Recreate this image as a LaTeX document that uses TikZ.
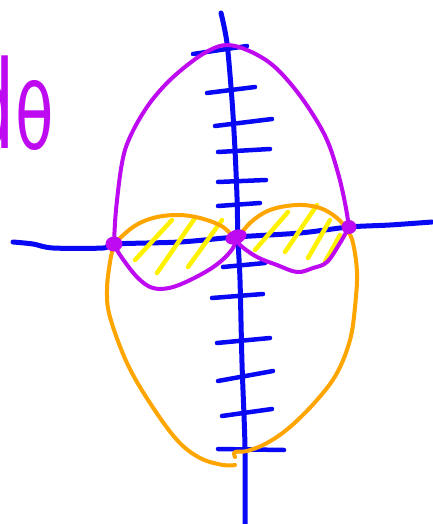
\documentclass[tikz,border=0pt]{standalone}
\usepackage{fontspec}
\newfontfamily\handfont{DejaVu Sans}
\definecolor{axisblue}{RGB}{8,8,245}
\definecolor{curvepurple}{RGB}{190,10,240}
\definecolor{curveorange}{RGB}{255,165,0}
\definecolor{hatchyellow}{RGB}{255,242,0}
\begin{document}
\begin{tikzpicture}[x=1pt,y=-1pt, line cap=round, line join=round,
  axisline/.style={draw=axisblue, line width=5pt},
  tickmark/.style={draw=axisblue, line width=4.5pt},
  purpcurve/.style={draw=curvepurple, line width=4pt},
  orngcurve/.style={draw=curveorange, line width=4pt},
  hatchline/.style={draw=hatchyellow, line width=4.5pt},
  meetdot/.style={fill=curvepurple},
  handtext/.style={anchor=base west, inner sep=0pt, text=curvepurple, font=\handfont, transform shape}]
\useasboundingbox (0,0) rectangle (433,524);
\fill[white] (0,0) rectangle (433,524);

% label (its left part is cut off by the picture's edge, as in the reference)
\node[handtext, xscale=0.6, font=\handfont\fontsize{122}{122}\selectfont] (labeld) at (-32,148) {d};
\node[handtext, xscale=0.7, font=\handfont\fontsize{90}{90}\selectfont] (labeltheta) at (15,149) {θ};

% meeting points
\coordinate (P1) at (114,244);
\coordinate (P2) at (236,237);
\coordinate (P3) at (349,227);

% axes
\draw[axisline] plot[smooth, tension=0.5] coordinates {(221,13) (227,43) (232,100) (235,150) (237,197) (238,240) (240,280) (242,363) (245,447) (245,524)};
\draw[axisline] plot[smooth, tension=0.5] coordinates {(13,242) (33,244) (53,248) (103,248) (P1) (180,242) (P2) (300,233) (P3) (390,225) (432,222)};

% ticks
\draw[tickmark] (193,54) -- (247,46);
\draw[tickmark] (207,93) -- (255,87);
\draw[tickmark] (215,126) -- (272,119);
\draw[tickmark] (218,152) -- (270,149);
\draw[tickmark] (218,182) -- (266,180);
\draw[tickmark] (218,206) -- (260,203);
\draw[tickmark] (223,267) -- (265,263);
\draw[tickmark] (212,298) -- (263,294);
\draw[tickmark] (217,343) -- (270,338);
\draw[tickmark] (218,381) -- (273,371);
\draw[tickmark] (222,416) -- (272,409);
\draw[tickmark] (218,449) -- (284,450);

% hatching
\draw[hatchline] (135,260) -- (172,220);
\draw[hatchline] (157,273) -- (195,218);
\draw[hatchline] (188,267) -- (222,220);
\draw[hatchline] (255,250) -- (288,212);
\draw[hatchline] (285,252) -- (317,205);
\draw[hatchline] (308,258) -- (330,220);
\draw[hatchline] (325,262) -- (340,235);

% orange curve
\draw[orngcurve] plot[smooth, tension=0.6] coordinates {(P1) (110,262) (107,290) (110,317) (127,363) (150,403) (177,440) (200,458) (223,465) (235,465)};
\draw[orngcurve] plot[smooth, tension=0.6] coordinates {(P1) (133,227) (153,218) (177,215) (200,218) (223,227) (236,241)};
\draw[orngcurve] plot[smooth, tension=0.6] coordinates {(236,241) (250,223) (270,210) (297,205) (320,208) (337,218) (347,230) (353,243) (357,273) (355,307) (350,340) (337,373) (317,400) (290,427) (267,443) (247,451) (235,452) (235,457)};

% purple curve
\draw[purpcurve] plot[smooth, tension=0.6] coordinates {(P1) (116,210) (122,163) (130,137) (147,107) (167,83) (190,63) (210,50) (227,45) (247,50) (270,63) (290,83) (310,110) (327,140) (338,173) (345,203) (P3)};
\draw[purpcurve] plot[smooth, tension=0.6] coordinates {(P1) (120,255) (137,277) (153,288) (173,287) (200,275) (220,262) (233,248) (P2)};
\draw[purpcurve] plot[smooth, tension=0.6] coordinates {(P2) (240,245) (257,257) (277,265) (297,272) (313,268) (327,262) (340,243) (P3)};

% dots
\fill[meetdot] (P1) ellipse [x radius=8.5pt, y radius=7.5pt];
\fill[meetdot, rotate around={20:(P2)}] (P2) ellipse [x radius=11pt, y radius=7pt];
\fill[meetdot] (P3) ellipse [x radius=7.5pt, y radius=7pt];
\end{tikzpicture}
\end{document}
